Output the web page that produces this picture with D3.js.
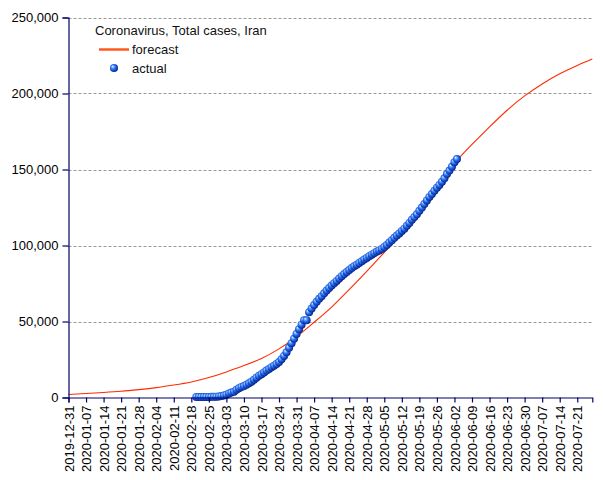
<!DOCTYPE html>
<html><head><meta charset="utf-8">
<script src="https://cdn.jsdelivr.net/npm/d3@7"></script>
<style>
body{margin:0;background:#fff}
text{font-family:"Liberation Sans",Arial,sans-serif}
</style>
</head><body>
<svg id="chart" width="605" height="480"></svg>
<script>
const chartTitle = "Coronavirus, Total cases, Iran";
const seriesNames = ["forecast", "actual"];
const xTickLabels = ["2019-12-31","2020-01-07","2020-01-14","2020-01-21","2020-01-28","2020-02-04","2020-02-11","2020-02-18","2020-02-25","2020-03-03","2020-03-10","2020-03-17","2020-03-24","2020-03-31","2020-04-07","2020-04-14","2020-04-21","2020-04-28","2020-05-05","2020-05-12","2020-05-19","2020-05-26","2020-06-02","2020-06-09","2020-06-16","2020-06-23","2020-06-30","2020-07-07","2020-07-14","2020-07-21"];
const yTickValues = [0, 50000, 100000, 150000, 200000, 250000];
const xDomain = ["2019-12-31", "2020-07-27"];

const forecastDates = ["2019-12-31","2020-01-07","2020-01-14","2020-01-21","2020-01-28","2020-02-04","2020-02-11","2020-02-18","2020-02-25","2020-03-03","2020-03-10","2020-03-17","2020-03-24","2020-03-31","2020-04-07","2020-04-14","2020-04-21","2020-04-28","2020-05-05","2020-05-12","2020-05-19","2020-05-26","2020-06-02","2020-06-09","2020-06-16","2020-06-23","2020-06-30","2020-07-07","2020-07-14","2020-07-21","2020-07-27"];
const forecastValues = [2000,2600,3300,4100,5200,6500,8200,10200,13100,16800,21000,25700,32000,40000,49500,59500,71000,83000,95500,108500,123000,138500,154000,166500,178000,189000,198400,206300,213000,218500,222700];

const actualStartDate = "2020-02-20";
const actualValues = [2,5,18,28,43,61,95,139,245,388,593,978,1501,2336,2922,3513,4747,5823,6566,7161,8042,9000,10075,11364,12729,13938,14991,16169,17361,18407,19644,20610,21638,23049,24811,27017,29406,32332,35408,38309,41495,44605,47593,50468,50468,55743,58226,60500,62589,64586,66220,68192,70029,71686,73303,74877,76389,77995,79494,80868,82211,83505,84802,85996,87026,88194,89328,90481,91472,92584,93657,94640,95646,96448,97424,98647,99970,101650,103135,104691,106220,107603,109286,110767,112725,114533,116635,118392,120198,122492,124603,126949,129341,131652,133521,135701,137724,139511,141591,143849,146668,148950,151466,154445,156500];

const parse = d3.utcParse("%Y-%m-%d");
const fmt = d3.utcFormat("%Y-%m-%d");
const svg = d3.select("#chart");
const axisColor = "#000066";

const x = d3.scaleUtc().domain(xDomain.map(parse)).range([68.5, 592.3]);
const y = d3.scaleLinear().domain([0, 250000]).range([397.5, 17.5]);

// defs: sphere gradient
const defs = svg.append("defs");
const g = defs.append("radialGradient").attr("id","sphere")
  .attr("cx","0.45").attr("cy","0.45").attr("r","0.6").attr("fx","0.32").attr("fy","0.3");
[["0","#eaf4ff"],["0.22","#7ab4ff"],["0.5","#2a6ff0"],["0.8","#0d3bb5"],["1","#021566"]]
  .forEach(([o,c]) => g.append("stop").attr("offset",o).attr("stop-color",c));

// grid
svg.append("g").selectAll("line").data(yTickValues.filter(v => v > 0)).join("line")
  .attr("x1", 68.5).attr("x2", 592.5)
  .attr("y1", d => Math.round(y(d)) + 0.5).attr("y2", d => Math.round(y(d)) + 0.5)
  .attr("stroke", "#9a9a9a").attr("stroke-width", 1).attr("stroke-dasharray", "3,2");

// forecast line
const fData = forecastDates.map((d,i) => ({date: parse(d), v: forecastValues[i]}));
svg.append("path").datum(fData)
  .attr("d", d3.line().x(d => x(d.date)).y(d => y(d.v)).curve(d3.curveNatural))
  .attr("fill","none").attr("stroke","#ff2a00").attr("stroke-width",1.1);

// actual points
const start = parse(actualStartDate);
const aData = actualValues.map((v,i) => ({date: d3.utcDay.offset(start, i), v}));
svg.append("g").selectAll("circle").data(aData).join("circle")
  .attr("cx", d => x(d.date)).attr("cy", d => y(d.v) - 0.5).attr("r", 4)
  .attr("fill","url(#sphere)");

// axes
const xAxis = d3.axisBottom(x).tickValues(xTickLabels.map(parse)).tickFormat(fmt)
  .tickSizeOuter(0).tickSize(5).tickPadding(3);
const gx = svg.append("g").attr("transform","translate(0,397.5)").call(xAxis);
gx.selectAll("text").attr("transform","rotate(-90)").attr("text-anchor","end")
  .attr("x",-8).attr("y",0).attr("dy","0.35em");

const yAxis = d3.axisLeft(y).tickValues(yTickValues).tickFormat(d3.format(","))
  .tickSizeOuter(0).tickSize(6).tickPadding(4);
const gy = svg.append("g").attr("transform","translate(68.5,0)").call(yAxis);

[gx, gy].forEach(a => {
  a.select(".domain").attr("stroke", axisColor).attr("stroke-width",1.2);
  a.selectAll(".tick line").attr("stroke", axisColor).attr("stroke-width",1.2);
  a.selectAll("text").attr("fill","#000").attr("font-size",13)
   .attr("font-family","'Liberation Sans', Arial, sans-serif");
});

// legend
const lg = svg.append("g");
lg.append("text").attr("x",95).attr("y",35).attr("font-size",13).attr("fill","#111").text(chartTitle);
lg.append("line").attr("x1",99).attr("x2",129).attr("y1",49.5).attr("y2",49.5)
  .attr("stroke","#ff5a1e").attr("stroke-width",2.5);
lg.append("text").attr("x",132).attr("y",54).attr("font-size",13).attr("fill","#111").text(seriesNames[0]);
lg.append("circle").attr("cx",114).attr("cy",68).attr("r",4).attr("fill","url(#sphere)");
lg.append("text").attr("x",132).attr("y",73).attr("font-size",13).attr("fill","#111").text(seriesNames[1]);
</script>
</body></html>
